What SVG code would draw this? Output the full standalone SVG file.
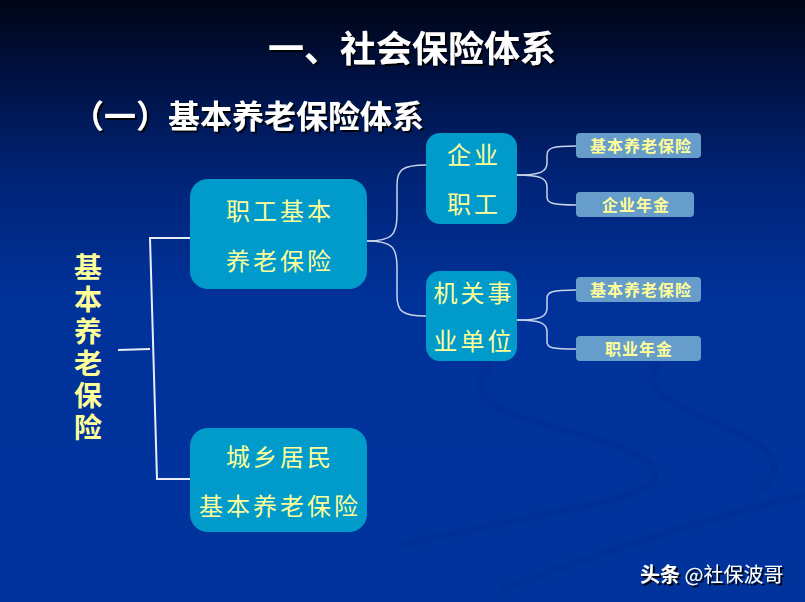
<svg xmlns="http://www.w3.org/2000/svg" width="805" height="602" viewBox="0 0 805 602">
<defs>
<linearGradient id="bg" x1="0" y1="0" x2="0" y2="1">
<stop offset="0" stop-color="#000615"/>
<stop offset="0.12" stop-color="#00103f"/>
<stop offset="0.3" stop-color="#002478"/>
<stop offset="0.5" stop-color="#00329a"/>
<stop offset="1" stop-color="#00349c"/>
</linearGradient>
<filter id="sh" x="-10%" y="-10%" width="130%" height="140%">
<feDropShadow dx="2" dy="2" stdDeviation="0.6" flood-color="#000" flood-opacity="0.9"/>
</filter>
</defs>
<style>
.ttl{font-family:"Liberation Sans","Noto Sans CJK SC",sans-serif;font-weight:bold;fill:#fff}
.big{fill:#009bcb}
.sm{fill:#679dcb}
.bt{font-family:"Noto Sans CJK SC",sans-serif;fill:#ffff99;font-size:24px;text-anchor:middle;letter-spacing:3px}
.st{font-family:"Noto Sans CJK SC",sans-serif;fill:#ffff99;font-size:16px;font-weight:bold;text-anchor:middle;letter-spacing:1px}
.ln{fill:none;stroke:#e8eef8;stroke-width:2}
.cv{fill:none;stroke:#c8d4ea;stroke-width:1.5}
.sw{fill:none;stroke:#002d90;stroke-width:7;opacity:0.4}
</style>
<rect width="805" height="602" fill="url(#bg)"/>
<g id="swoosh">
<path class="sw" d="M492,364 C470,385 478,405 530,420 C600,440 660,455 655,478 C650,498 560,510 400,545"/>
<path class="sw" d="M660,364 C640,385 660,400 720,425 C770,445 790,465 760,490"/>
<path class="sw" d="M805,495 C720,515 620,545 500,590"/>
</g>
<text class="ttl" x="412" y="62" font-size="36" text-anchor="middle" filter="url(#sh)">一、社会保险体系</text>
<text class="ttl" x="72" y="128" font-size="32" filter="url(#sh)">（一）基本养老保险体系</text>
<g id="connectors">
<path class="ln" d="M118,350 L150,349"/>
<path class="ln" d="M190,238 L150,238 L157,479 L191,479"/>
<path class="cv" d="M367,241 C392,241 397,235 397,215 L397,185 C397,170 402,165 426,165"/>
<path class="cv" d="M367,241 C392,241 397,247 397,267 L397,296 C397,311 402,316 426,316"/>
<path class="cv" d="M517,175 C540,175 547,172 547,163 L547,155 C547,148 552,146 576,146"/>
<path class="cv" d="M517,175 C540,175 547,178 547,187 L547,197 C547,203 552,205 576,205"/>
<path class="cv" d="M517,320 C540,320 547,317 547,308 L547,298 C547,292 552,290 576,290"/>
<path class="cv" d="M517,320 C540,320 547,323 547,332 L547,342 C547,348 552,349 576,349"/>
</g>
<g id="root">
<text x="88" y="253" writing-mode="vertical-rl" font-family="Noto Sans CJK SC,sans-serif" font-weight="bold" font-size="28" letter-spacing="4" fill="#ffff99">基本养老保险</text>
</g>
<g id="n-zhigong">
<rect class="big" x="190" y="179" width="177" height="110" rx="18"/>
<text class="bt" x="280" y="220">职工基本</text>
<text class="bt" x="280" y="270">养老保险</text>
</g>
<g id="n-chengxiang">
<rect class="big" x="190" y="428" width="177" height="104" rx="18"/>
<text class="bt" x="280" y="466">城乡居民</text>
<text class="bt" x="280" y="515">基本养老保险</text>
</g>
<g id="n-qiye">
<rect class="big" x="426" y="133" width="91" height="91" rx="14"/>
<text class="bt" x="474" y="164">企业</text>
<text class="bt" x="474" y="213">职工</text>
</g>
<g id="n-jiguan">
<rect class="big" x="426" y="271" width="91" height="90" rx="14"/>
<text class="bt" x="474" y="302">机关事</text>
<text class="bt" x="474" y="350">业单位</text>
</g>
<g id="s1">
<rect class="sm" x="576" y="133" width="125" height="25" rx="4"/>
<text class="st" x="641" y="152">基本养老保险</text>
</g>
<g id="s2">
<rect class="sm" x="576" y="192" width="118" height="25" rx="4"/>
<text class="st" x="636" y="211">企业年金</text>
</g>
<g id="s3">
<rect class="sm" x="576" y="277" width="125" height="25" rx="4"/>
<text class="st" x="641" y="296">基本养老保险</text>
</g>
<g id="s4">
<rect class="sm" x="576" y="336" width="125" height="25" rx="4"/>
<text class="st" x="639" y="355">职业年金</text>
</g>
<text x="640" y="582" font-family="Noto Sans CJK SC,sans-serif" font-size="20" fill="#fff" filter="url(#sh)"><tspan font-weight="bold">头条</tspan> @社保波哥</text>
</svg>
